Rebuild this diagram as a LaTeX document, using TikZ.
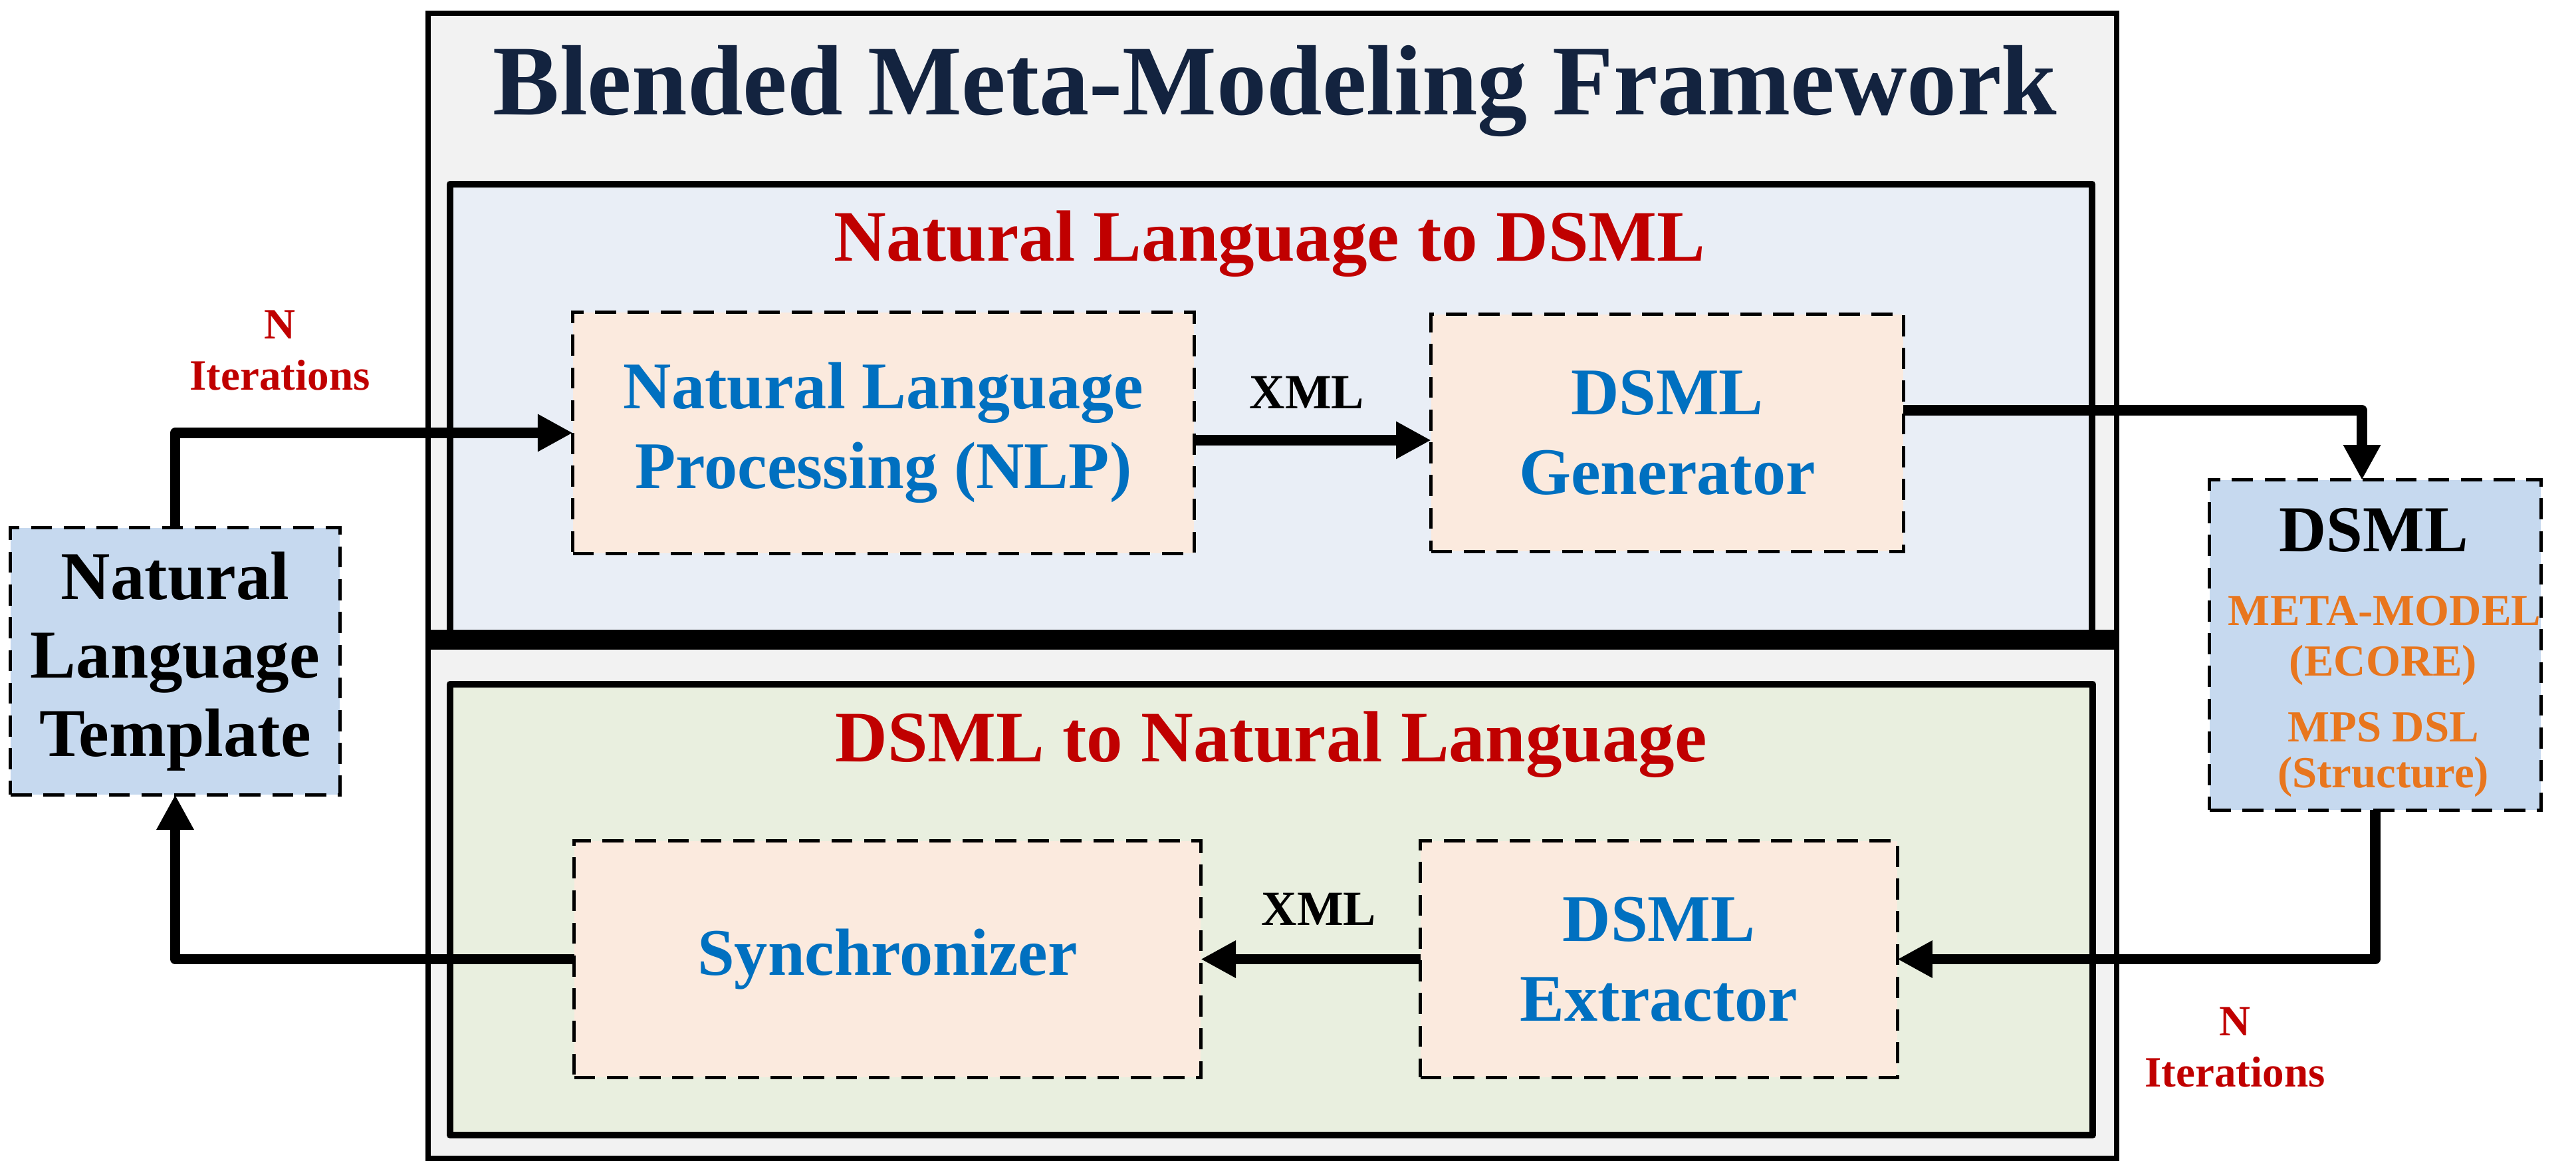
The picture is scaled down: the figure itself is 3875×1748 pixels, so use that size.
\documentclass[tikz,border=0pt]{standalone}
\usepackage{fontspec}
\setmainfont{Liberation Serif}
\usetikzlibrary{arrows.meta,calc}
\definecolor{titlec}{HTML}{13233F}
\definecolor{outerfill}{HTML}{F2F2F2}
\definecolor{upperfill}{HTML}{E9EEF6}
\definecolor{lowerfill}{HTML}{E9EFDF}
\definecolor{procfill}{HTML}{FBEADE}
\definecolor{bluebox}{HTML}{C6D9EF}
\definecolor{bluetxt}{HTML}{0070C0}
\definecolor{redtxt}{HTML}{C00000}
\definecolor{orangetxt}{HTML}{E8761E}
\tikzset{
  frame/.style={draw=black, line width=2.3pt, fill=outerfill},
  panel/.style={draw=black, line width=2.9pt, line join=round},
  dbox/.style={draw=black, line width=1.4pt, dash pattern=on 9pt off 5pt, inner sep=0pt, outer sep=0pt, align=center},
  procbox/.style={dbox, fill=procfill, text=bluetxt, font=\bfseries\fontsize{28.5}{34.1}\selectfont},
  endbox/.style={dbox, fill=bluebox},
  flow/.style={line width=4.3pt, line join=round, -{Triangle[length=15pt,width=15pt]}},
  flowline/.style={line width=4.3pt, line join=round, line cap=round},
  heading/.style={text=redtxt, font=\bfseries\fontsize{31}{36}\selectfont, anchor=base, inner sep=0pt},
  xmllabel/.style={font=\bfseries\fontsize{21}{24}\selectfont, inner sep=0pt},
  iterlabel/.style={text=redtxt, font=\bfseries\fontsize{18.5}{22}\selectfont, align=center, inner sep=0pt},
  orangelabel/.style={text=orangetxt, font=\bfseries\fontsize{19}{22}\selectfont, anchor=base, inner sep=0pt}
}
\begin{document}
\begin{tikzpicture}[x=0.01cm,y=-0.01cm]
\useasboundingbox (0,0) rectangle (3875,1748);
% frames
\draw[frame] (644,20) rectangle (3184,1742);
\draw[panel, fill=upperfill] (677,277) rectangle (3147,962);
\draw[panel, fill=lowerfill] (677,1029) rectangle (3148,1707);
\draw[line width=8.8pt] (644,962) -- (3184,962);
% titles
\node[text=titlec, font=\bfseries\fontsize{42.7}{48}\selectfont, anchor=base, inner sep=0pt] (title) at (1918,172) {Blended Meta-Modeling Framework};
\node[heading] (h1) at (1910,392) {Natural Language to DSML};
\node[heading] (h2) at (1912,1145) {DSML to Natural Language};
% boxes
\node[endbox, minimum width=4.95cm, minimum height=4.01cm, font=\bfseries\fontsize{29.3}{33.6}\selectfont] (nlt) at (263.5,994.5) {Natural\\Language\\Template};
\node[procbox, minimum width=9.34cm, minimum height=3.62cm] (nlp) at (1329,651) {Natural Language\\Processing (NLP)};
\node[procbox, minimum width=7.10cm, minimum height=3.56cm] (gen) at (2508,651) {DSML\\Generator};
\node[procbox, minimum width=9.42cm, minimum height=3.55cm] (sync) at (1335,1442.5) {Synchronizer};
\node[procbox, minimum width=7.17cm, minimum height=3.55cm] (ext) at (2495.5,1442.5) {DSML\\Extractor};
\node[endbox, minimum width=4.98cm, minimum height=4.96cm] (dsml) at (3573,970) {};
\node[font=\bfseries\fontsize{28}{32}\selectfont, anchor=base, inner sep=0pt] (dsmlt) at (3571,829) {DSML};
\node[orangelabel] (mm) at (3587,940) {META-MODEL};
\node[orangelabel] (ecore) at (3585,1016) {(ECORE)};
\node[orangelabel] (mps) at (3585,1115) {MPS DSL};
\node[orangelabel] (struct) at (3585,1184) {(Structure)};
% labels
\node[xmllabel] (xml1) at (1966,590) {XML};
\node[xmllabel] (xml2) at (1984,1367) {XML};
\node[iterlabel] (it1) at (421,527) {N\\Iterations};
\node[iterlabel] (it2) at (3362,1575) {N\\Iterations};
% connectors
\coordinate (genout) at ($(gen.east)+(0,-34)$);
\coordinate (dsmlin) at ($(dsml.north)+(-20,0)$);
\draw[flow] (nlt.north) |- (nlp.west);
\draw[flow] ($(nlp.east)+(0,11)$) -- ($(gen.west)+(0,11)$);
\draw[flow] (genout) -| (dsmlin);
\draw[flow] (dsml.south) |- (ext.east);
\draw[flow] (ext.west) -- (sync.east);
\draw[flow] (sync.west) -| (nlt.south);
\end{tikzpicture}
\end{document}
